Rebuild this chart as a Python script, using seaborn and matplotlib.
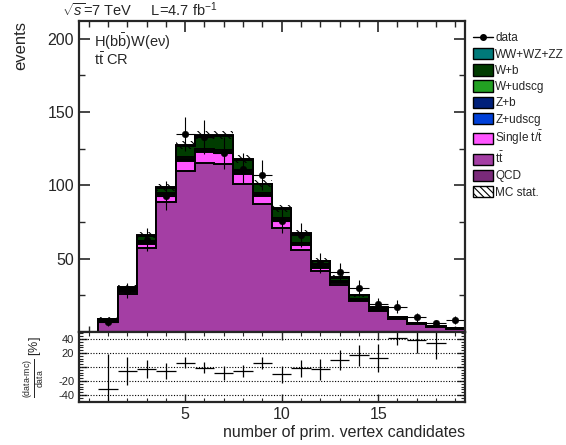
import numpy as np
import pandas as pd
import matplotlib
matplotlib.use("Agg")
import matplotlib.pyplot as plt
from matplotlib.patches import Patch
from matplotlib.lines import Line2D
from matplotlib.ticker import MultipleLocator, FixedLocator
import seaborn as sns

# bin centres (number of primary vertices)
nvtx = list(range(1, 20))

# stacked MC components per bin
qcd      = [0.0] * 19
ttbar    = [7.0, 26.0, 57.0, 88.4, 110.0, 115.3, 114.8, 101.0, 87.1, 70.7, 55.8, 41.6, 31.8, 21.1, 14.3, 9.1, 5.5, 3.4, 1.8]
single_t = [0.5, 1.5, 3.0, 5.0, 6.9, 7.7, 7.1, 6.5, 5.9, 5.0, 3.5, 2.3, 1.8, 0.7, 0.3, 0.1, 0.1, 0.1, 0.1]
z_udscg  = [0.1, 0.2, 0.3, 0.3, 0.4, 0.4, 0.4, 0.4, 0.3, 0.3, 0.3, 0.2, 0.2, 0.1, 0.1, 0.0, 0.0, 0.0, 0.0]
z_b      = [0.1, 0.1, 0.2, 0.3, 0.3, 0.3, 0.3, 0.3, 0.3, 0.2, 0.2, 0.2, 0.1, 0.1, 0.1, 0.0, 0.0, 0.0, 0.0]
w_udscg  = [0.3, 0.5, 0.7, 1.0, 1.4, 1.1, 1.4, 1.8, 1.4, 1.3, 1.2, 1.4, 0.9, 0.7, 0.5, 0.2, 0.2, 0.1, 0.1]
w_b      = [1.0, 2.0, 4.5, 3.3, 8.0, 9.1, 9.9, 7.4, 5.8, 6.6, 6.0, 2.7, 2.3, 2.2, 1.4, 0.7, 0.6, 0.5, 0.5]
diboson  = [0.1, 0.2, 0.3, 0.4, 0.5, 0.5, 0.5, 0.4, 0.4, 0.3, 0.3, 0.2, 0.2, 0.1, 0.1, 0.1, 0.0, 0.0, 0.0]
mc_err   = [0.8, 1.5, 2.2, 2.5, 2.8, 2.9, 2.9, 2.7, 2.5, 2.3, 2.0, 1.7, 1.5, 1.2, 1.0, 0.8, 0.6, 0.5, 0.4]

# data
data     = [6.8, 28.2, 63.0, 93.0, 135.0, 132.8, 121.9, 111.2, 107.0, 76.0, 66.0, 46.8, 40.9, 30.0, 19.1, 17.3, 10.0, 5.9, 8.2]
data_err = [2.6, 5.3, 7.9, 9.6, 11.6, 11.5, 11.0, 10.5, 10.3, 8.7, 8.1, 6.8, 6.4, 5.5, 4.4, 4.2, 3.2, 2.4, 2.9]

# (data-mc)/data in %
ratio     = [-31.4, -5.7, -2.9, -5.7, 6.2, -1.0, -8.1, -5.7, 5.7, -10.5, -1.9, -2.9, 10.0, 17.1, 12.4, 41.9, 38.6, 33.8, 70.0]
ratio_err = [50.0, 20.0, 13.0, 11.0, 8.0, 8.0, 10.0, 9.0, 9.0, 12.0, 12.0, 15.0, 14.0, 15.0, 20.0, 11.0, 19.0, 22.0, 15.0]

# stack order: top first
samples = ["WW+WZ+ZZ", "W+b", "W+udscg", "Z+b", "Z+udscg", "Single t/$\\bar{\\mathrm{t}}$", "t$\\bar{\\mathrm{t}}$", "QCD"]
values = [diboson, w_b, w_udscg, z_b, z_udscg, single_t, ttbar, qcd]
colors = ["#007a7a", "#003c00", "#22a022", "#00207a", "#0040d8", "#ff55ff", "#a43ea4", "#7a2a7a"]

sns.set_style("ticks")
plt.rcParams["font.family"] = ["Liberation Sans", "DejaVu Sans"]
plt.rcParams["mathtext.fontset"] = "custom"
plt.rcParams["mathtext.rm"] = "Liberation Sans"
plt.rcParams["mathtext.it"] = "Liberation Sans:italic"
plt.rcParams["axes.linewidth"] = 1.6
plt.rcParams["hatch.linewidth"] = 0.8

edges = np.arange(0.5, 20.5, 1.0)

fig = plt.figure(figsize=(5.66, 4.45), dpi=100)
ax = fig.add_axes([79 / 566, 1 - 332 / 445, 386 / 566, 311 / 445])
ax2 = fig.add_axes([79 / 566, 1 - 402 / 445, 386 / 566, 70 / 445], sharex=ax)

# stacked histogram (ROOT-like: every cumulative level outlined)
cum = np.zeros(len(nvtx))
levels = []
for v in values[::-1]:
    cum = cum + np.array(v)
    levels.append(cum.copy())
for lev, col in zip(levels[::-1], colors):
    ax.stairs(lev, edges, fill=True, facecolor=col, edgecolor="none")
    ax.stairs(lev, edges, color="black", linewidth=1.4)
total = levels[-1]

# MC stat band
ax.stairs(total + np.array(mc_err), edges, baseline=total - np.array(mc_err),
          fill=True, facecolor="none", edgecolor="black", hatch="\\\\\\\\", linewidth=0)

# data points
ax.errorbar(nvtx, data, yerr=data_err, xerr=0.5, fmt="none", ecolor="black", elinewidth=0.8)
sns.scatterplot(x=nvtx, y=data, color="black", s=22, edgecolor="black", ax=ax, zorder=5, legend=False)

ax.set_xlim(-0.5, 19.5)
ax.set_ylim(0, 212)
ax.yaxis.set_major_locator(FixedLocator([50, 100, 150, 200]))
ax.yaxis.set_minor_locator(MultipleLocator(25))
ax.xaxis.set_major_locator(FixedLocator([5, 10, 15]))
ax.xaxis.set_minor_locator(MultipleLocator(1))
ax.tick_params(which="both", direction="in", top=True, right=True, labelbottom=False, labelsize=11.5)
ax.tick_params(which="major", length=8, width=1.2)
ax.tick_params(which="minor", length=4, width=1.0)
ax.set_ylabel("events", loc="top", fontsize=12, labelpad=14)

fig.text(62 / 566, 1 - 10 / 445, "$\\sqrt{s}$=7 TeV     L=4.7 fb$^{-1}$", fontsize=10.5, va="center")
ax.text(0.04, 0.935, "H(b$\\bar{\\mathrm{b}}$)W(eν)", transform=ax.transAxes, fontsize=10.5, va="center")
ax.text(0.04, 0.875, "t$\\bar{\\mathrm{t}}$ CR", transform=ax.transAxes, fontsize=10.5, va="center")

# ratio panel
for g in [-40, -20, 0, 20, 40]:
    ax2.axhline(g, color="black", linestyle=(0, (1, 1.5)), linewidth=0.8)
ax2.errorbar(nvtx, ratio, yerr=ratio_err, xerr=0.5, fmt="none", ecolor="black", elinewidth=0.9)
ax2.set_ylim(-50, 50)
ax2.yaxis.set_major_locator(FixedLocator([-40, -20, 0, 20, 40]))
ax2.set_yticklabels(["-40", "-20", "", "20", "40"])
ax2.yaxis.set_minor_locator(MultipleLocator(4))
ax2.tick_params(which="both", direction="in", top=True, right=True, labelsize=8)
ax2.tick_params(axis="x", labelsize=11.5)
ax2.tick_params(which="major", length=6, width=1.0)
ax2.tick_params(which="minor", length=3, width=0.8)
ax2.set_ylabel("$\\frac{\\text{(data-mc)}}{\\text{data}}$ [%]", fontsize=9, labelpad=8)
ax2.set_xlabel("number of prim. vertex candidates", loc="right", fontsize=11.5, labelpad=2)

# legend
handles = [Line2D([0], [0], color="black", marker="o", markersize=4, linewidth=1)]
labels = ["data"]
for s, c in zip(samples, colors):
    handles.append(Patch(facecolor=c, edgecolor="black", linewidth=1))
    labels.append(s)
handles.append(Patch(facecolor="white", edgecolor="black", hatch="\\\\\\\\\\", linewidth=1))
labels.append("MC stat.")
fig.legend(handles, labels, loc="upper left", bbox_to_anchor=(468 / 566, 1 - 27 / 445),
           frameon=False, fontsize=8.5, handlelength=1.7, handleheight=1.1,
           handletextpad=0.2, labelspacing=0.3, borderaxespad=0)

fig.savefig("out.png", dpi=100)
